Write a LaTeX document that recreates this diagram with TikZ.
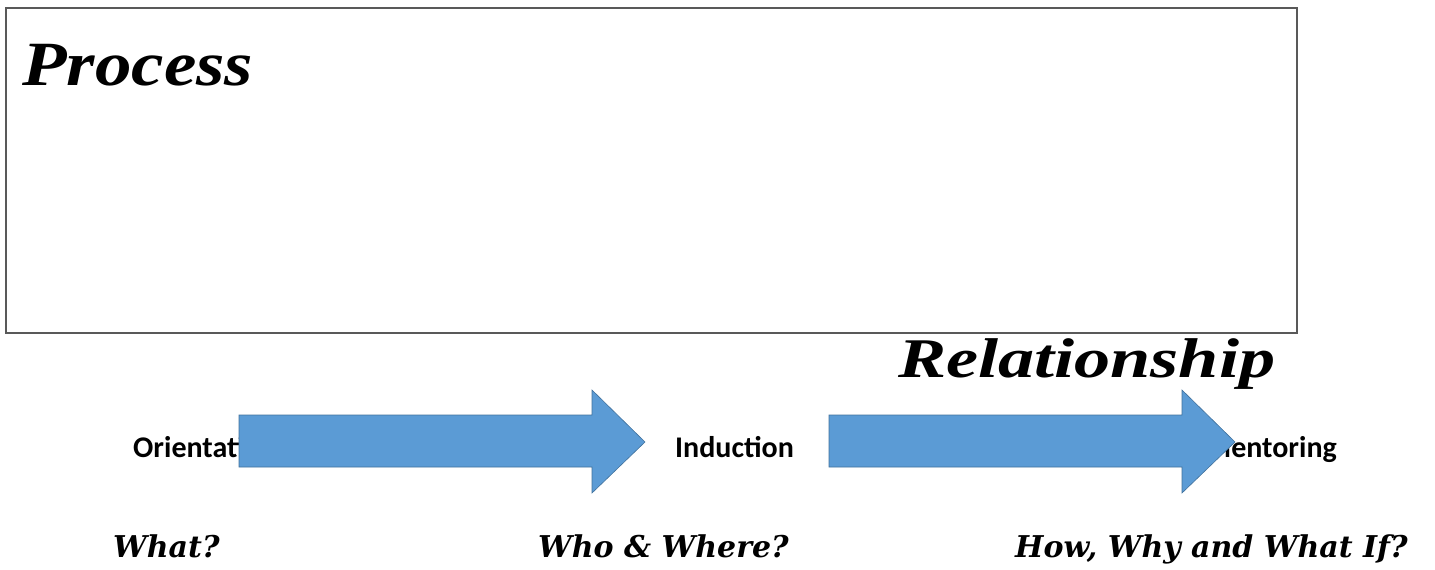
\documentclass[tikz,border=0pt]{standalone}
\usepackage{fontspec}
\setmainfont{Liberation Serif}
\newfontfamily\labelfont{Carlito}
\newfontfamily\qfont{DejaVu Serif}
\definecolor{arrowblue}{HTML}{5B9BD5}
\definecolor{arrowedge}{HTML}{41719C}
\definecolor{framegray}{HTML}{595959}
\tikzset{
  frame/.style={draw=framegray, line width=2pt},
  bigtitle/.style={inner sep=0pt, anchor=base west},
  steplabel/.style={inner sep=0pt, font=\labelfont\bfseries\fontsize{30}{34}\selectfont},
  question/.style={inner sep=0pt, anchor=base west, font=\qfont\bfseries\itshape\fontsize{30}{34}\selectfont},
  blockarrow/.style={fill=arrowblue, draw=arrowedge, line width=0.6pt, line join=miter}
}
\begin{document}
\begin{tikzpicture}[x=1pt, y=-1pt]
\useasboundingbox (0,0) rectangle (1435,570);
% frame
\node[frame, minimum width=1291pt, minimum height=325pt, anchor=north west, inner sep=0pt] (box) at (5,7) {};
% titles
\node[bigtitle] (process) at (22,85) {\resizebox{231pt}{\height}{\bfseries\itshape\fontsize{63}{70}\selectfont Process}};
\node[bigtitle] (relationship) at (898,377) {\resizebox{377pt}{\height}{\bfseries\itshape\fontsize{56}{62}\selectfont Relationship}};
% step labels (partly hidden behind the arrows)
\node[steplabel, anchor=base west] (orientation) at (133,457) {Orientation};
\node[steplabel, anchor=base west] (induction) at (675,457) {Induction};
\node[steplabel, anchor=base east] (mentoring) at (1337,457) {Mentoring};
% block arrows
\draw[blockarrow] (239,415) -- (592,415) -- (592,390) -- (645,442) -- (592,493) -- (592,467) -- (239,467) -- cycle;
\draw[blockarrow] (829,415) -- (1182,415) -- (1182,390) -- (1235,442) -- (1182,493) -- (1182,467) -- (829,467) -- cycle;
% questions
\node[question] (what) at (113,557) {What?};
\node[question] (who) at (538,557) {Who \& Where?};
\node[question] (how) at (1015,557) {How, Why and What If?};
\end{tikzpicture}
\end{document}
